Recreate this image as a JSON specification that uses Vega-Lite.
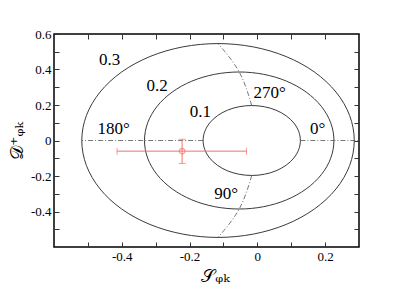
{
  "$schema": "https://vega.github.io/schema/vega-lite/v6.json",
  "width": 305,
  "height": 213,
  "autosize": "none",
  "padding": {"left": 54, "top": 34, "right": 39, "bottom": 52},
  "background": "white",
  "config": {
    "view": {"stroke": "black", "strokeWidth": 1.5},
    "font": "Liberation Serif, Times New Roman, serif",
    "axis": {"labelFont": "Liberation Serif, Times New Roman, serif", "titleFont": "DejaVu Serif", "labelFontSize": 13, "labelColor": "black", "tickColor": "#333", "domain": false, "grid": false, "titleFontWeight": "normal", "titleColor": "black"}
  },
  "datasets": {
    "ellipses": [
      {"curve": "r1", "k": 0, "s": 0.127, "d": 0}, {"curve": "r1", "k": 1, "s": 0.1221, "d": 0.051}, {"curve": "r1", "k": 2, "s": 0.1078, "d": 0.0985}, {"curve": "r1", "k": 3, "s": 0.085, "d": 0.1393}, {"curve": "r1", "k": 4, "s": 0.0553, "d": 0.1706}, {"curve": "r1", "k": 5, "s": 0.0206, "d": 0.1903}, {"curve": "r1", "k": 6, "s": -0.0165, "d": 0.197}, {"curve": "r1", "k": 7, "s": -0.0536, "d": 0.1903}, {"curve": "r1", "k": 8, "s": -0.0883, "d": 0.1706}, {"curve": "r1", "k": 9, "s": -0.118, "d": 0.1393}, {"curve": "r1", "k": 10, "s": -0.1408, "d": 0.0985}, {"curve": "r1", "k": 11, "s": -0.1551, "d": 0.051}, {"curve": "r1", "k": 12, "s": -0.16, "d": 0}, {"curve": "r1", "k": 13, "s": -0.1551, "d": -0.051}, {"curve": "r1", "k": 14, "s": -0.1408, "d": -0.0985}, {"curve": "r1", "k": 15, "s": -0.118, "d": -0.1393}, {"curve": "r1", "k": 16, "s": -0.0883, "d": -0.1706}, {"curve": "r1", "k": 17, "s": -0.0536, "d": -0.1903}, {"curve": "r1", "k": 18, "s": -0.0165, "d": -0.197}, {"curve": "r1", "k": 19, "s": 0.0206, "d": -0.1903}, {"curve": "r1", "k": 20, "s": 0.0553, "d": -0.1706}, {"curve": "r1", "k": 21, "s": 0.085, "d": -0.1393}, {"curve": "r1", "k": 22, "s": 0.1078, "d": -0.0985}, {"curve": "r1", "k": 23, "s": 0.1221, "d": -0.051},
      {"curve": "r2", "k": 0, "s": 0.226, "d": 0}, {"curve": "r2", "k": 1, "s": 0.2165, "d": 0.0999}, {"curve": "r2", "k": 2, "s": 0.1886, "d": 0.193}, {"curve": "r2", "k": 3, "s": 0.1441, "d": 0.2729}, {"curve": "r2", "k": 4, "s": 0.0863, "d": 0.3343}, {"curve": "r2", "k": 5, "s": 0.0188, "d": 0.3728}, {"curve": "r2", "k": 6, "s": -0.0535, "d": 0.386}, {"curve": "r2", "k": 7, "s": -0.1258, "d": 0.3728}, {"curve": "r2", "k": 8, "s": -0.1933, "d": 0.3343}, {"curve": "r2", "k": 9, "s": -0.2511, "d": 0.2729}, {"curve": "r2", "k": 10, "s": -0.2956, "d": 0.193}, {"curve": "r2", "k": 11, "s": -0.3235, "d": 0.0999}, {"curve": "r2", "k": 12, "s": -0.333, "d": 0}, {"curve": "r2", "k": 13, "s": -0.3235, "d": -0.0999}, {"curve": "r2", "k": 14, "s": -0.2956, "d": -0.193}, {"curve": "r2", "k": 15, "s": -0.2511, "d": -0.2729}, {"curve": "r2", "k": 16, "s": -0.1933, "d": -0.3343}, {"curve": "r2", "k": 17, "s": -0.1258, "d": -0.3728}, {"curve": "r2", "k": 18, "s": -0.0535, "d": -0.386}, {"curve": "r2", "k": 19, "s": 0.0188, "d": -0.3728}, {"curve": "r2", "k": 20, "s": 0.0863, "d": -0.3343}, {"curve": "r2", "k": 21, "s": 0.1441, "d": -0.2729}, {"curve": "r2", "k": 22, "s": 0.1886, "d": -0.193}, {"curve": "r2", "k": 23, "s": 0.2165, "d": -0.0999},
      {"curve": "r3", "k": 0, "s": 0.286, "d": 0}, {"curve": "r3", "k": 1, "s": 0.2723, "d": 0.1413}, {"curve": "r3", "k": 2, "s": 0.2321, "d": 0.273}, {"curve": "r3", "k": 3, "s": 0.1683, "d": 0.3861}, {"curve": "r3", "k": 4, "s": 0.085, "d": 0.4729}, {"curve": "r3", "k": 5, "s": -0.012, "d": 0.5274}, {"curve": "r3", "k": 6, "s": -0.116, "d": 0.546}, {"curve": "r3", "k": 7, "s": -0.22, "d": 0.5274}, {"curve": "r3", "k": 8, "s": -0.317, "d": 0.4729}, {"curve": "r3", "k": 9, "s": -0.4003, "d": 0.3861}, {"curve": "r3", "k": 10, "s": -0.4641, "d": 0.273}, {"curve": "r3", "k": 11, "s": -0.5043, "d": 0.1413}, {"curve": "r3", "k": 12, "s": -0.518, "d": 0}, {"curve": "r3", "k": 13, "s": -0.5043, "d": -0.1413}, {"curve": "r3", "k": 14, "s": -0.4641, "d": -0.273}, {"curve": "r3", "k": 15, "s": -0.4003, "d": -0.3861}, {"curve": "r3", "k": 16, "s": -0.317, "d": -0.4729}, {"curve": "r3", "k": 17, "s": -0.22, "d": -0.5274}, {"curve": "r3", "k": 18, "s": -0.116, "d": -0.546}, {"curve": "r3", "k": 19, "s": -0.012, "d": -0.5274}, {"curve": "r3", "k": 20, "s": 0.085, "d": -0.4729}, {"curve": "r3", "k": 21, "s": 0.1683, "d": -0.3861}, {"curve": "r3", "k": 22, "s": 0.2321, "d": -0.273}, {"curve": "r3", "k": 23, "s": 0.2723, "d": -0.1413}
    ],
    "phases": [
      {"phase": "270", "k": 0, "s": -0.0165, "d": 0.197}, {"phase": "270", "k": 1, "s": -0.0535, "d": 0.386}, {"phase": "270", "k": 2, "s": -0.116, "d": 0.546},
      {"phase": "90", "k": 0, "s": -0.0165, "d": -0.197}, {"phase": "90", "k": 1, "s": -0.0535, "d": -0.386}, {"phase": "90", "k": 2, "s": -0.116, "d": -0.546},
      {"phase": "180", "k": 0, "s": -0.16, "d": 0}, {"phase": "180", "k": 1, "s": -0.518, "d": 0},
      {"phase": "0", "k": 0, "s": 0.127, "d": 0}, {"phase": "0", "k": 1, "s": 0.3, "d": 0}
    ],
    "labels": [
      {"text": "0.3", "s": -0.436, "d": 0.454},
      {"text": "0.2", "s": -0.296, "d": 0.308},
      {"text": "0.1", "s": -0.168, "d": 0.163},
      {"text": "270°", "s": 0.036, "d": 0.269},
      {"text": "0°", "s": 0.178, "d": 0.062},
      {"text": "180°", "s": -0.424, "d": 0.067},
      {"text": "90°", "s": -0.092, "d": -0.302}
    ],
    "measurement": [
      {"s": -0.222, "d": -0.06, "s_lo": -0.414, "s_hi": -0.032, "d_lo": -0.129, "d_hi": 0.007}
    ]
  },
  "layer": [
    {
      "data": {"name": "ellipses"},
      "mark": {"type": "line", "interpolate": "cardinal-closed", "stroke": "#3a3a3a", "strokeWidth": 1},
      "encoding": {
        "x": {"field": "s", "type": "quantitative", "scale": {"domain": [-0.6, 0.3], "nice": false, "zero": false},
          "axis": {"orient": "bottom", "values": [-0.5, -0.4, -0.3, -0.2, -0.1, 0, 0.1, 0.2], "format": ".1~f", "labelFont": "Liberation Serif, Times New Roman, serif", "labelExpr": "round(datum.value*10) % 2 == 0 ? replace(datum.label, '−', '-') : ''", "tickSize": -5, "labelPadding": 8, "title": "𝒮ᵩₖ", "titleFontSize": 18, "titlePadding": 4, "titleX": 161, "titleAlign": "center"}},
        "y": {"field": "d", "type": "quantitative", "scale": {"domain": [-0.6, 0.6], "nice": false, "zero": false},
          "axis": {"orient": "left", "values": [-0.5, -0.4, -0.3, -0.2, -0.1, 0, 0.1, 0.2, 0.3, 0.4, 0.5, 0.6], "format": ".1~f", "labelFont": "Liberation Serif, Times New Roman, serif", "labelExpr": "round(datum.value*10) % 2 == 0 ? replace(datum.label, '−', '-') : ''", "tickSize": -5, "labelPadding": 8, "title": "𝒟⁺ᵩₖ", "titleFontSize": 18, "titlePadding": 4}},
        "detail": {"field": "curve"},
        "order": {"field": "k", "type": "quantitative"}
      }
    },
    {
      "data": {"name": "phases"},
      "mark": {"type": "line", "interpolate": "natural", "stroke": "#555", "strokeWidth": 0.8, "strokeDash": [5, 2, 1, 2]},
      "encoding": {
        "x": {"field": "s", "type": "quantitative", "axis": null},
        "y": {"field": "d", "type": "quantitative", "axis": null},
        "detail": {"field": "phase"},
        "order": {"field": "k", "type": "quantitative"}
      }
    },
    {
      "data": {"name": "labels"},
      "mark": {"type": "text", "font": "Liberation Serif, Times New Roman, serif", "fontSize": 17, "color": "black", "align": "center", "baseline": "middle"},
      "encoding": {
        "x": {"field": "s", "type": "quantitative", "axis": null},
        "y": {"field": "d", "type": "quantitative", "axis": null},
        "text": {"field": "text"}
      }
    },
    {
      "data": {"name": "measurement"},
      "mark": {"type": "rule", "stroke": "#f4736a", "strokeWidth": 1},
      "encoding": {
        "x": {"field": "s_lo", "type": "quantitative", "axis": null},
        "x2": {"field": "s_hi"},
        "y": {"field": "d", "type": "quantitative", "axis": null}
      }
    },
    {
      "data": {"name": "measurement"},
      "mark": {"type": "rule", "stroke": "#f4736a", "strokeWidth": 1},
      "encoding": {
        "x": {"field": "s", "type": "quantitative", "axis": null},
        "y": {"field": "d_lo", "type": "quantitative", "axis": null},
        "y2": {"field": "d_hi"}
      }
    },
    {
      "data": {"name": "measurement"},
      "mark": {"type": "tick", "orient": "vertical", "size": 7, "thickness": 1, "color": "#f4736a"},
      "encoding": {
        "x": {"field": "s_lo", "type": "quantitative", "axis": null},
        "y": {"field": "d", "type": "quantitative", "axis": null}
      }
    },
    {
      "data": {"name": "measurement"},
      "mark": {"type": "tick", "orient": "vertical", "size": 7, "thickness": 1, "color": "#f4736a"},
      "encoding": {
        "x": {"field": "s_hi", "type": "quantitative", "axis": null},
        "y": {"field": "d", "type": "quantitative", "axis": null}
      }
    },
    {
      "data": {"name": "measurement"},
      "mark": {"type": "tick", "orient": "horizontal", "size": 7, "thickness": 1, "color": "#f4736a"},
      "encoding": {
        "x": {"field": "s", "type": "quantitative", "axis": null},
        "y": {"field": "d_lo", "type": "quantitative", "axis": null}
      }
    },
    {
      "data": {"name": "measurement"},
      "mark": {"type": "tick", "orient": "horizontal", "size": 7, "thickness": 1, "color": "#f4736a"},
      "encoding": {
        "x": {"field": "s", "type": "quantitative", "axis": null},
        "y": {"field": "d_hi", "type": "quantitative", "axis": null}
      }
    },
    {
      "data": {"name": "measurement"},
      "mark": {"type": "point", "shape": "circle", "filled": false, "size": 30, "stroke": "#f4736a", "strokeWidth": 1.2},
      "encoding": {
        "x": {"field": "s", "type": "quantitative",
          "axis": {"orient": "top", "values": [-0.5, -0.4, -0.3, -0.2, -0.1, 0, 0.1, 0.2], "labels": false, "tickSize": -5, "title": null}},
        "y": {"field": "d", "type": "quantitative",
          "axis": {"orient": "right", "values": [-0.5, -0.4, -0.3, -0.2, -0.1, 0, 0.1, 0.2, 0.3, 0.4, 0.5], "labels": false, "tickSize": -5, "title": null}}
      }
    }
  ],
  "resolve": {"axis": {"x": "independent", "y": "independent"}}
}
